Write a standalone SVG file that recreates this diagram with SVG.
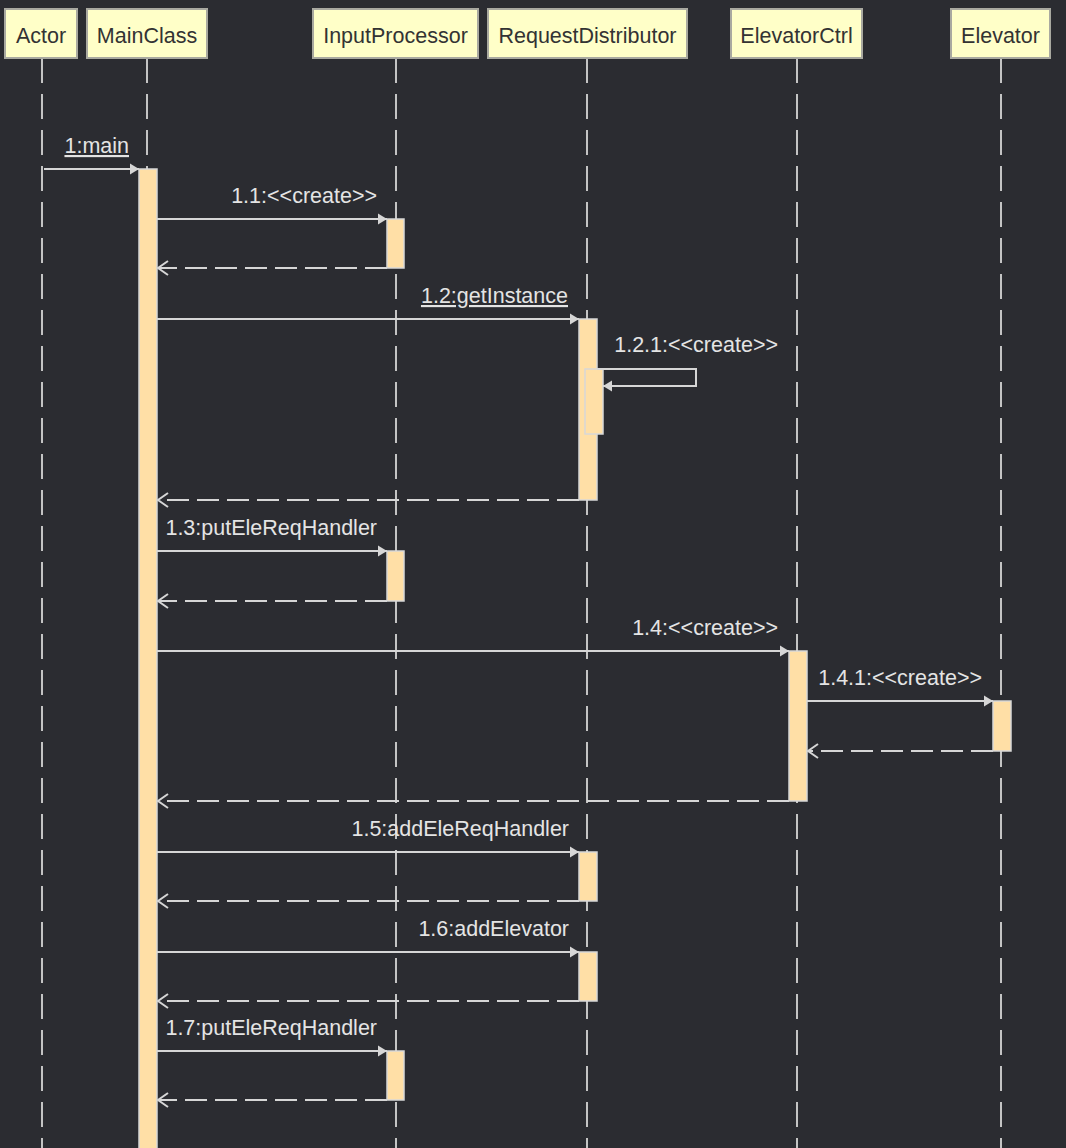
<svg xmlns="http://www.w3.org/2000/svg" width="1066" height="1148" viewBox="0 0 1066 1148">
<defs>
<style>
.hdr{fill:#ffffc8;stroke:#a9a9a0;stroke-width:2}
.hdrt{font-family:"Liberation Sans",Arial,sans-serif;font-size:21.5px;fill:#333333;text-anchor:middle}
.life{stroke:#c4c4c4;stroke-width:2;stroke-dasharray:25 11;fill:none}
.act{fill:#ffdfa6;stroke:#d8d8d8;stroke-width:1.5}
.msg{stroke:#d6d6d6;stroke-width:2;fill:none;marker-end:url(#sync)}
.ret{stroke:#d6d6d6;stroke-width:2;fill:none;stroke-dasharray:22 8;marker-end:url(#open)}
.lbl{font-family:"Liberation Sans",Arial,sans-serif;font-size:21.5px;fill:#e4e4e4;text-anchor:end}
</style>
<marker id="sync" markerUnits="userSpaceOnUse" markerWidth="12" markerHeight="14" refX="10" refY="7" orient="auto" viewBox="0 0 12 14">
<path d="M1,1.5 L10,7 L1,12.5 z" fill="#d6d6d6"/>
</marker>
<marker id="open" markerUnits="userSpaceOnUse" markerWidth="14" markerHeight="18" refX="11" refY="9" orient="auto" viewBox="0 0 14 18">
<path d="M1,2 L11,9 L1,16" fill="none" stroke="#d6d6d6" stroke-width="2"/>
</marker>
</defs>
<rect width="1066" height="1148" fill="#2b2c31"/>

<g id="Actor">
<line class="life" x1="42" y1="58" x2="42" y2="1148"/>
<rect class="hdr" x="5" y="9" width="72" height="49"/>
<text class="hdrt" x="41" y="43">Actor</text>
</g>

<g id="MainClass">
<line class="life" x1="147" y1="58" x2="147" y2="1148"/>
<rect class="hdr" x="87" y="9" width="120" height="49"/>
<text class="hdrt" x="147" y="43">MainClass</text>
<rect class="act" x="139" y="169" width="18" height="990" stroke="none"/>
</g>

<g id="InputProcessor">
<line class="life" x1="396" y1="58" x2="396" y2="1148"/>
<rect class="hdr" x="313" y="9" width="165" height="49"/>
<text class="hdrt" x="395.5" y="43">InputProcessor</text>
<rect class="act" x="387" y="219" width="17" height="49"/>
<rect class="act" x="387" y="551" width="17" height="50"/>
<rect class="act" x="387" y="1051" width="17" height="49"/>
</g>

<g id="RequestDistributor">
<line class="life" x1="587" y1="58" x2="587" y2="1148"/>
<rect class="hdr" x="488" y="9" width="199" height="49"/>
<text class="hdrt" x="587.5" y="43">RequestDistributor</text>
<rect class="act" x="579" y="319" width="18" height="181"/>
<rect class="act" x="585" y="369" width="18" height="65"/>
<rect class="act" x="579" y="852" width="18" height="49"/>
<rect class="act" x="579" y="952" width="18" height="49"/>
</g>

<g id="ElevatorCtrl">
<line class="life" x1="797" y1="58" x2="797" y2="1148"/>
<rect class="hdr" x="731" y="9" width="131" height="49"/>
<text class="hdrt" x="796.5" y="43">ElevatorCtrl</text>
<rect class="act" x="789" y="651" width="18" height="150"/>
</g>

<g id="Elevator">
<line class="life" x1="1001" y1="58" x2="1001" y2="1148"/>
<rect class="hdr" x="951" y="9" width="99" height="49"/>
<text class="hdrt" x="1000.5" y="43">Elevator</text>
<rect class="act" x="993" y="701" width="18" height="50"/>
</g>

<g id="connectors">
<path class="msg" d="M44,169 H139"/>
<text class="lbl" x="129" y="153" text-decoration="underline">1:main</text>

<path class="msg" d="M157,219 H387"/>
<text class="lbl" x="377" y="203">1.1:&lt;&lt;create&gt;&gt;</text>
<path class="ret" d="M387,268 H158"/>

<path class="msg" d="M157,319 H579"/>
<text class="lbl" x="568" y="303" text-decoration="underline">1.2:getInstance</text>
<path class="msg" d="M597,369 H696 V386 H603"/>
<text class="lbl" x="778" y="352">1.2.1:&lt;&lt;create&gt;&gt;</text>
<path class="ret" d="M579,500 H158"/>

<path class="msg" d="M157,551 H387"/>
<text class="lbl" x="377" y="535">1.3:putEleReqHandler</text>
<path class="ret" d="M387,601 H158"/>

<path class="msg" d="M157,651 H789"/>
<text class="lbl" x="778" y="635">1.4:&lt;&lt;create&gt;&gt;</text>
<path class="msg" d="M807,701 H993"/>
<text class="lbl" x="982" y="685">1.4.1:&lt;&lt;create&gt;&gt;</text>
<path class="ret" d="M993,751 H808"/>
<path class="ret" d="M789,801 H158"/>

<path class="msg" d="M157,852 H579"/>
<text class="lbl" x="569" y="836">1.5:addEleReqHandler</text>
<path class="ret" d="M579,901 H158"/>

<path class="msg" d="M157,952 H579"/>
<text class="lbl" x="569" y="936">1.6:addElevator</text>
<path class="ret" d="M579,1001 H158"/>

<path class="msg" d="M157,1051 H387"/>
<text class="lbl" x="377" y="1035">1.7:putEleReqHandler</text>
<path class="ret" d="M387,1100 H158"/>
</g>
</svg>
